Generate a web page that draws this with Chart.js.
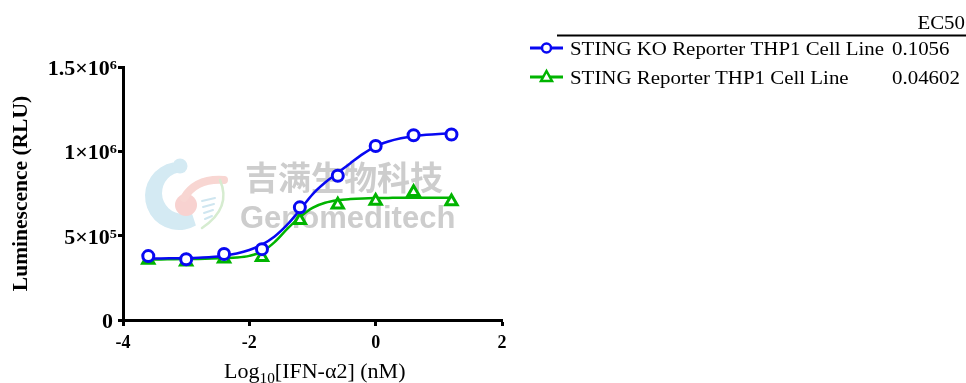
<!DOCTYPE html>
<html lang="en">
<head>
    <meta charset="UTF-8">
    <title>Luminescence vs IFN-a2</title>
    <script src="https://cdn.jsdelivr.net/npm/chart.js@4/dist/chart.umd.min.js"></script>
    <style>
        html, body { margin: 0; padding: 0; background: #fff; }
        #wrap { width: 966px; height: 383px; }
    </style>
</head>
<body>
<div id="wrap"><canvas id="myChart" width="966" height="383"></canvas></div>
<script>
// measured points (log10 nM, RLU)
const doseLog = [-3.6, -3.0, -2.4, -1.8, -1.2, -0.6, 0, 0.6, 1.2];
const koValues = [379000, 360000, 391000, 420000, 668000, 855000, 1032000, 1095000, 1100000];
const wtValues = [355000, 345000, 363000, 372000, 592000, 683000, 705000, 757000, 703000];

// fitted curves
const curveX = [-3.6, -3.4, -3.2, -3.0, -2.8, -2.6, -2.4, -2.2, -2.0, -1.8, -1.6, -1.4, -1.2,
                -1.0, -0.8, -0.6, -0.4, -0.2, 0, 0.2, 0.4, 0.6, 0.8, 1.0, 1.2];
const koFit = [365000, 365000, 366000, 367000, 369000, 373000, 381000, 394000, 415000, 447000,
               495000, 565000, 652000, 745000, 815000, 872000, 930000, 985000, 1030000, 1058000,
               1077000, 1090000, 1098000, 1103000, 1106000];
const wtFit = [358000, 359000, 360000, 361000, 362000, 364000, 367000, 370000, 380000, 405000,
               462000, 540000, 610000, 665000, 695000, 710000, 717000, 721000, 723000, 724000,
               725000, 725000, 725000, 725000, 725000];

const seriesLabels = ['STING KO Reporter THP1 Cell Line', 'STING Reporter THP1 Cell Line'];
const ec50Values = ['0.1056', '0.04602'];
const xTicks = [-4, -2, 0, 2];
const yTicks = [0, 500000, 1000000, 1500000];
const yTickMain = ['0', '5×10', '1×10', '1.5×10'];
const yTickExp = ['', '5', '6', '6'];

const BLUE = '#0808f2';
const GREEN = '#00b400';
const SERIF = "'Liberation Serif', 'Times New Roman', serif";
const STRETCH = 1.1; // the source text is a little wide

function toXY(xs, ys) {
    return xs.map((x, i) => ({ x: x, y: ys[i] }));
}

// draw text stretched horizontally, returns drawn width
function wideText(ctx, text, x, y, align) {
    const w = ctx.measureText(text).width * STRETCH;
    let left = x;
    if (align === 'right') left = x - w;
    if (align === 'center') left = x - w / 2;
    ctx.save();
    ctx.textAlign = 'left';
    ctx.translate(left, y);
    ctx.scale(STRETCH, 1);
    ctx.fillText(text, 0, 0);
    ctx.restore();
    return w;
}

// faint logo + company name behind the data
const watermark = {
    id: 'watermark',
    beforeDatasetsDraw(chart) {
        const ctx = chart.ctx;
        ctx.save();
        // blue C
        ctx.fillStyle = '#d4eaf3';
        ctx.beginPath();
        ctx.arc(179, 196, 34, -1.75, 1.05, true);
        ctx.arc(183, 193, 21, 1.15, -1.45, false);
        ctx.closePath();
        ctx.fill();
        ctx.beginPath();
        ctx.arc(180, 166, 7.5, 0, Math.PI * 2);
        ctx.fill();
        // pink drop
        ctx.fillStyle = '#f8d2d0';
        ctx.beginPath();
        ctx.arc(186, 205, 11, 0, Math.PI * 2);
        ctx.fill();
        ctx.strokeStyle = '#f8d6d2';
        ctx.lineCap = 'round';
        ctx.lineWidth = 8;
        ctx.beginPath();
        ctx.moveTo(184, 198);
        ctx.quadraticCurveTo(196, 178, 224, 180);
        ctx.stroke();
        // green strand
        ctx.strokeStyle = '#d6ecd0';
        ctx.lineWidth = 2.5;
        ctx.beginPath();
        ctx.moveTo(220, 180);
        ctx.quadraticCurveTo(232, 208, 202, 228);
        ctx.stroke();
        // dna rungs
        ctx.strokeStyle = '#cfe6f0';
        ctx.lineWidth = 2;
        [201, 207, 213, 219].forEach((y, i) => {
            ctx.beginPath();
            ctx.moveTo(202 + i, y);
            ctx.lineTo(215 - i, y - 3);
            ctx.stroke();
        });
        ctx.fillStyle = '#cdcdcd';
        ctx.textBaseline = 'middle';
        ctx.font = "bold 33px 'Noto Sans CJK SC', sans-serif";
        ctx.fillText('吉满生物科技', 245, 177);
        ctx.font = "bold 31px 'Liberation Sans', Arial, sans-serif";
        ctx.fillText('Genomeditech', 240, 219);
        ctx.restore();
    }
};

// y tick labels with exponents, x title with subscript, and the EC50 legend table
const extras = {
    id: 'extras',
    afterDraw(chart) {
        const ctx = chart.ctx;
        const yAxis = chart.scales.y;
        ctx.save();
        ctx.fillStyle = '#000';
        ctx.textBaseline = 'alphabetic';

        // y tick labels
        yTicks.forEach((v, i) => {
            const py = yAxis.getPixelForValue(v);
            let right = 117;
            if (yTickExp[i]) {
                ctx.font = 'bold 13px ' + SERIF;
                right -= wideText(ctx, yTickExp[i], right, py + 2, 'right');
            } else {
                right = 113;
            }
            ctx.font = 'bold 20px ' + SERIF;
            wideText(ctx, yTickMain[i], right, py + 8, 'right');
        });

        // x axis title
        const parts = [['Log', 20, 0], ['10', 14, 5], ['[IFN-α2] (nM)', 20, 0]];
        let x = 224;
        parts.forEach(p => {
            ctx.font = p[1] + 'px ' + SERIF;
            x += wideText(ctx, p[0], x, 378 + p[2], 'left');
        });

        // legend table
        ctx.font = '19px ' + SERIF;
        wideText(ctx, 'EC50', 965, 29, 'right');
        ctx.strokeStyle = '#000';
        ctx.lineWidth = 2;
        ctx.beginPath();
        ctx.moveTo(557, 35.5);
        ctx.lineTo(966, 35.5);
        ctx.stroke();

        const rows = [48, 77];
        [0, 1].forEach(i => {
            const ds = chart.data.datasets[i];
            const y = rows[i];
            ctx.strokeStyle = ds.borderColor;
            ctx.lineWidth = 3;
            ctx.beginPath();
            ctx.moveTo(530, y);
            ctx.lineTo(563, y);
            ctx.stroke();
            ctx.fillStyle = '#fff';
            ctx.lineWidth = 2.5;
            ctx.beginPath();
            if (ds.pointStyle === 'triangle') {
                ctx.moveTo(546.5, y - 6);
                ctx.lineTo(552, y + 4);
                ctx.lineTo(541, y + 4);
                ctx.closePath();
            } else {
                ctx.arc(546.5, y, 4.5, 0, Math.PI * 2);
            }
            ctx.fill();
            ctx.stroke();
            ctx.fillStyle = '#000';
            ctx.font = '19px ' + SERIF;
            wideText(ctx, ds.label, 570, y + 7, 'left');
            wideText(ctx, ec50Values[i], 892, y + 7, 'left');
        });
        ctx.restore();
    }
};

const ctx = document.getElementById('myChart').getContext('2d');
const chart = new Chart(ctx, {
    type: 'line',
    data: {
        datasets: [
            {
                label: seriesLabels[0],
                data: toXY(doseLog, koValues),
                showLine: false,
                pointStyle: 'circle',
                pointRadius: 5.5,
                borderColor: BLUE,
                backgroundColor: '#fff',
                pointBorderWidth: 3,
            },
            {
                label: seriesLabels[1],
                data: toXY(doseLog, wtValues),
                showLine: false,
                pointStyle: 'triangle',
                pointRadius: 6.5,
                borderColor: GREEN,
                backgroundColor: '#fff',
                pointBorderWidth: 3,
            },
            {
                label: 'KO fit',
                data: toXY(curveX, koFit),
                borderColor: BLUE,
                borderWidth: 2.5,
                pointRadius: 0,
                cubicInterpolationMode: 'monotone',
                fill: false,
            },
            {
                label: 'WT fit',
                data: toXY(curveX, wtFit),
                borderColor: GREEN,
                borderWidth: 2.5,
                pointRadius: 0,
                cubicInterpolationMode: 'monotone',
                fill: false,
            },
        ]
    },
    options: {
        responsive: false,
        animation: false,
        events: [],
        layout: { padding: { left: 0, right: 464, top: 67, bottom: 0 } },
        plugins: {
            legend: { display: false },
            tooltip: { enabled: false },
        },
        scales: {
            x: {
                type: 'linear',
                min: -4,
                max: 2,
                afterBuildTicks: (axis) => { axis.ticks = xTicks.map(v => ({ value: v })); },
                afterFit: (axis) => { axis.height = 63; },
                border: { display: true, width: 3, color: '#000' },
                grid: { drawOnChartArea: false, drawTicks: true, tickLength: 6, tickWidth: 3, tickColor: '#000' },
                ticks: {
                    color: '#000',
                    padding: 7,
                    font: { family: SERIF, size: 18, weight: 'bold' },
                    callback: (v) => String(v),
                },
            },
            y: {
                min: 0,
                max: 1500000,
                afterBuildTicks: (axis) => { axis.ticks = yTicks.map(v => ({ value: v })); },
                afterFit: (axis) => { axis.width = 123; },
                border: { display: true, width: 3, color: '#000' },
                grid: { drawOnChartArea: false, drawTicks: true, tickLength: 5, tickWidth: 3, tickColor: '#000' },
                ticks: { display: false },
                title: {
                    display: true,
                    text: 'Luminescence (RLU)',
                    color: '#000',
                    padding: { top: 9, bottom: 0 },
                    font: { family: SERIF, size: 21.5, weight: 'bold' },
                },
            },
        },
    },
    plugins: [watermark, extras],
});
</script>
</body>
</html>
